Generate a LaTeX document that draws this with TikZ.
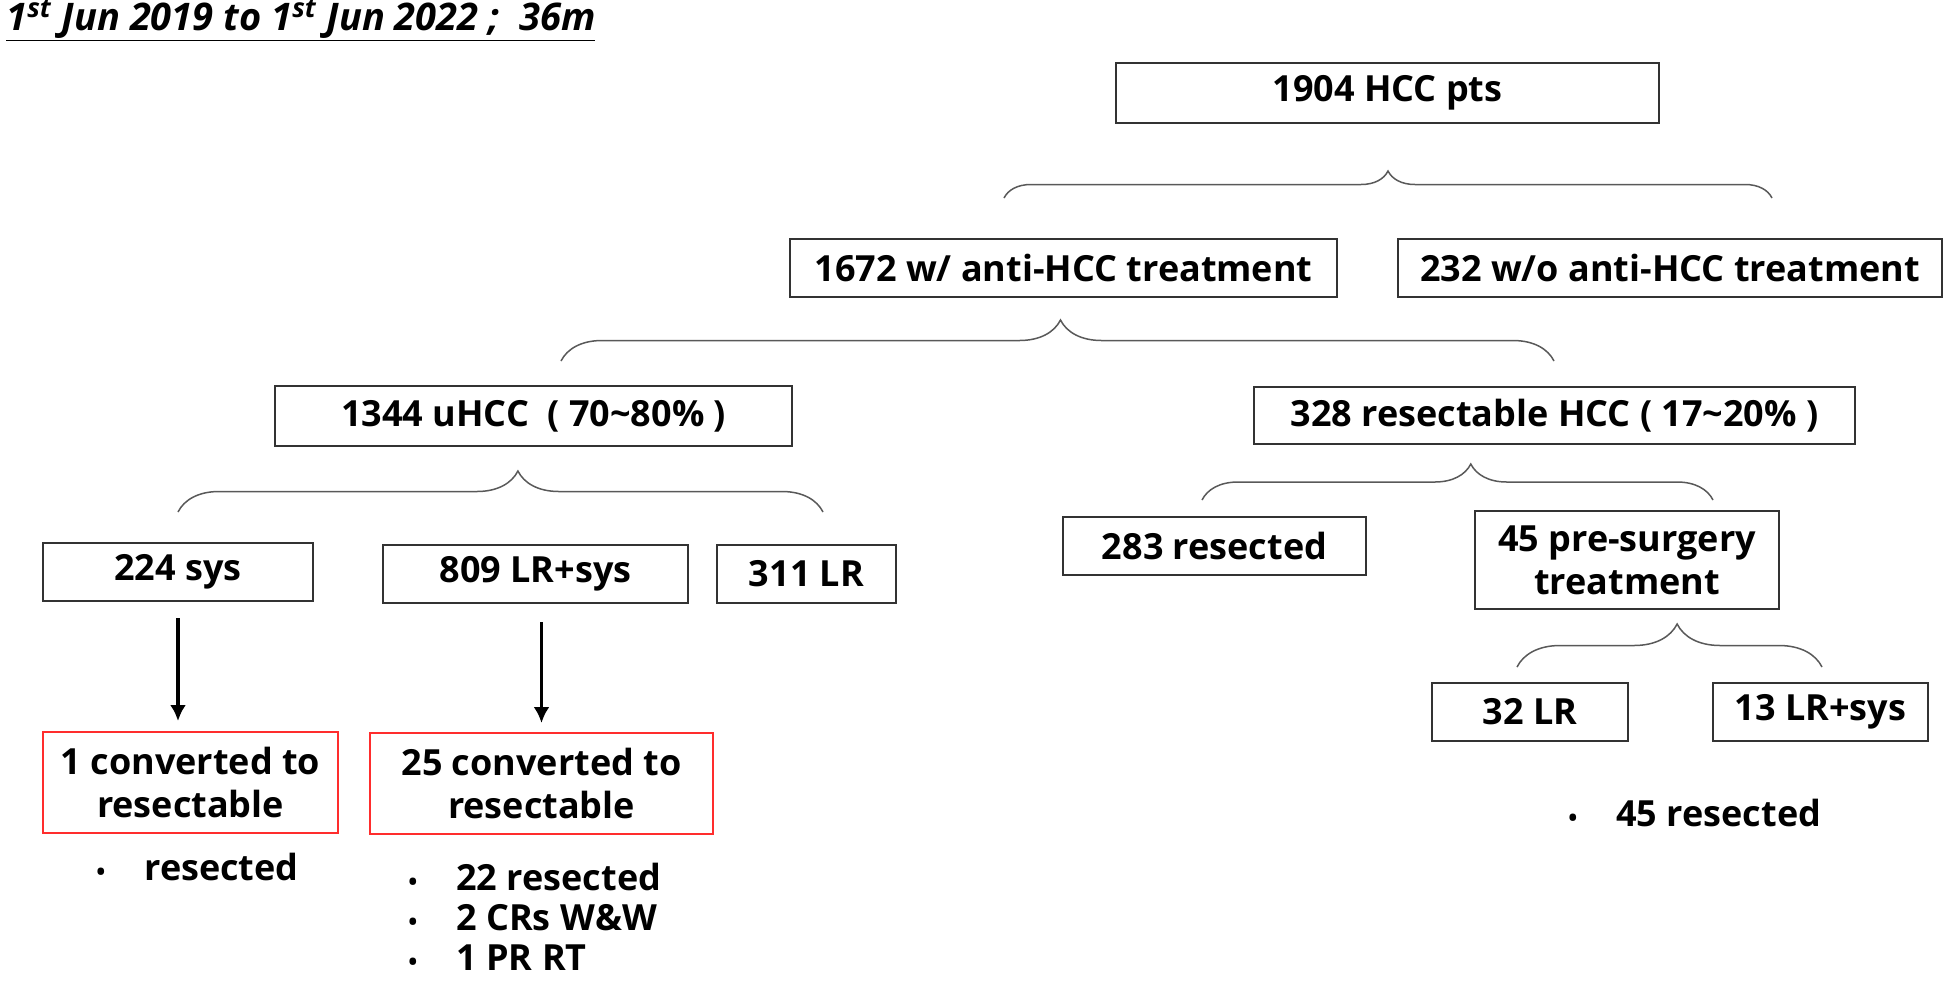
\documentclass[tikz,border=0pt]{standalone}
\usepackage{fontspec}
\setmainfont{Open Sans}
\usetikzlibrary{arrows.meta, decorations.pathreplacing}
\definecolor{convred}{RGB}{255,45,45}
\newcommand{\itm}{\makebox[24pt][l]{\fontsize{12}{12}\selectfont •}}

\begin{document}
\begin{tikzpicture}[
  x=0.5pt, y=-0.5pt,
  box/.style={
    draw=black!80,
    line width=1pt,
    inner sep=0pt,
    minimum height=29pt,
    align=center,
    font=\fontsize{18}{21.5}\selectfont\bfseries
  },
  convbox/.style={box, draw=convred, minimum height=50.5pt},
  brc/.style={decorate, draw=black!65, line width=0.75pt},
  note/.style={anchor=base west, inner sep=0pt, align=left, font=\fontsize{18}{20}\selectfont\bfseries},
  arr/.style={-{Latex[length=8pt, width=8pt]}, line width=1.6pt}
]
\useasboundingbox (0,0) rectangle (1944,981);

% Period
\node[anchor=base west, inner sep=0pt, font=\fontsize{19}{21}\selectfont\bfseries\itshape] (period) at (6,30)
  {\underline{1\textsuperscript{st} Jun 2019 to 1\textsuperscript{st} Jun 2022 ;\ \ 36m}};

% Tier 1 - all patients
\node[box, minimum width=271.5pt, minimum height=30pt] (hcc) at (1387.5,93) {1904 HCC pts};

% Tier 2 - treated or not
\node[box, minimum width=273.5pt] (treated) at (1063.5,268) {1672 w/ anti-HCC treatment};
\node[box, minimum width=272pt] (untreated) at (1670,268) {232 w/o anti-HCC treatment};

% Tier 3 - unresectable / resectable
\node[box, minimum width=258.5pt, minimum height=30pt] (uhcc) at (533.5,416) {1344 uHCC\ \ ( 70\textasciitilde 80\% )};
\node[box, minimum width=300.5pt, minimum height=28.5pt] (rhcc) at (1554.5,415.5) {328 resectable HCC ( 17\textasciitilde 20\% )};

% Tier 4 - uHCC treatment
\node[box, minimum width=135pt] (sys) at (178,572) {224 sys};
\node[box, minimum width=152.5pt] (lrsys) at (535.5,574) {809 LR+sys};
\node[box, minimum width=89.5pt] (lr) at (806.5,574) {311 LR};

% Tier 4 - resectable HCC
\node[box, minimum width=151.5pt] (resected) at (1214.5,546) {283 resected};
\node[box, minimum width=152pt, minimum height=49pt] (presurg) at (1627,560) {45 pre-surgery\\treatment};
\node[box, minimum width=98pt] (lr32) at (1530,712) {32 LR};
\node[box, minimum width=107.5pt] (lrsys13) at (1820.5,712) {13 LR+sys};

% Conversion
\node[convbox, minimum width=147.5pt] (conv1) at (190.5,782.5) {1 converted to\\resectable};
\node[convbox, minimum width=171.5pt] (conv25) at (541.5,783.5) {25 converted to\\resectable};

% Outcomes (base = last line)
\node[note] (out1) at (96,880) {\itm resected};
\node[note] (out25) at (408,970) {\itm 22 resected\\\itm 2 CRs W\&W\\\itm 1 PR RT};
\node[note] (out45) at (1568,826) {\itm 45 resected};

% Braces
\coordinate (b1l) at (1004,198); \coordinate (b1r) at (1772,198);
\coordinate (b2l) at (561,361);  \coordinate (b2r) at (1554,361);
\coordinate (b3l) at (178,512);  \coordinate (b3r) at (823,512);
\coordinate (b4l) at (1202,500); \coordinate (b4r) at (1713,500);
\coordinate (b5l) at (1517,667); \coordinate (b5r) at (1822,667);
\draw[brc, decoration={brace, amplitude=13.5pt, aspect=0.5}] (b1l) -- (b1r);
\draw[brc, decoration={brace, amplitude=20.5pt, aspect=0.503}] (b2l) -- (b2r);
\draw[brc, decoration={brace, amplitude=20.5pt, aspect=0.527}] (b3l) -- (b3r);
\draw[brc, decoration={brace, amplitude=18pt, aspect=0.526}] (b4l) -- (b4r);
\draw[brc, decoration={brace, amplitude=21.5pt, aspect=0.525}] (b5l) -- (b5r);

% Arrows
\draw[arr] ([yshift=-8pt]sys.south) -- ([yshift=5pt]sys.south |- conv1.north);
\draw[arr] ([yshift=-9pt]conv25.north |- lrsys.south) -- ([yshift=4.5pt]conv25.north);

\end{tikzpicture}
\end{document}
